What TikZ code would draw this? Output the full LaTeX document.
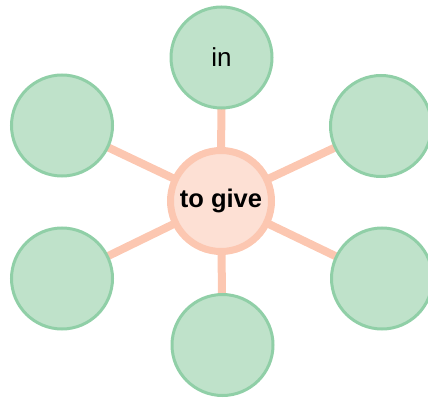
\documentclass[tikz,border=0pt]{standalone}
\usepackage{fontspec}
\setmainfont{Liberation Sans}
\usetikzlibrary{backgrounds}
\definecolor{leaffill}{HTML}{BFE2CA}
\definecolor{leafline}{HTML}{90CFA7}
\definecolor{hubfill}{HTML}{FDE0D4}
\definecolor{hubline}{HTML}{FCC7B1}
\begin{document}
\begin{tikzpicture}[x=1pt,y=-1pt,
  leaf/.style={circle,draw=leafline,fill=leaffill,line width=3pt,minimum size=101pt,inner sep=0pt,font=\fontsize{26}{30}\selectfont},
  hub/.style={circle,draw=hubline,fill=hubfill,line width=7pt,minimum size=101pt,inner sep=0pt,font=\bfseries\fontsize{25.5}{30}\selectfont},
  spoke/.style={draw=hubline,line width=8pt}]
\clip (0,0) rectangle (428,398);
\useasboundingbox (0,0) rectangle (428,398);
\node[hub] (c) at (221,201) {\raisebox{-1.5pt}{to give}};
\node[leaf] (t) at (221.5,57.5) {in};
\node[leaf] (ul) at (62,125.5) {};
\node[leaf] (ur) at (381,126) {};
\node[leaf] (ll) at (62,278.5) {};
\node[leaf] (lr) at (382,278.5) {};
\node[leaf] (b) at (222.5,345) {};
\begin{scope}[on background layer]
\foreach \n in {t,ul,ur,ll,lr,b} \draw[spoke] (c.center) -- (\n.center);
\end{scope}
\end{tikzpicture}
\end{document}
